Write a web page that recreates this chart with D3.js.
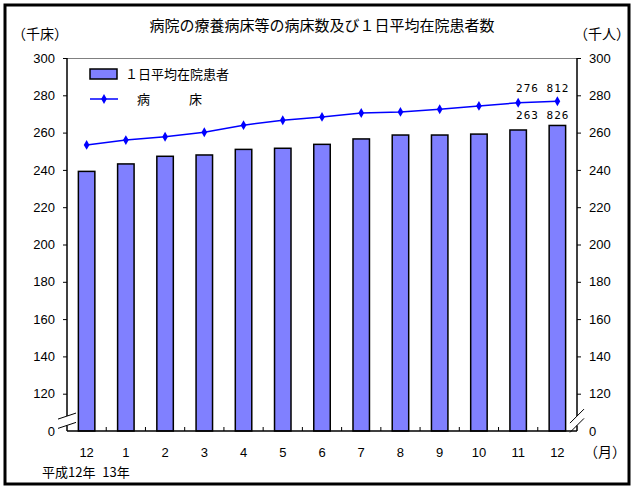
<!DOCTYPE html>
<html><head><meta charset="utf-8">
<script src="https://cdn.jsdelivr.net/npm/d3@7"></script>
<style>body{margin:0;background:#fff}svg{display:block}text{font-family:"Noto Sans CJK JP","Noto Sans",sans-serif;}</style>
</head><body><svg id="c" width="638" height="491"></svg>
<script>
const categories = ["12","1","2","3","4","5","6","7","8","9","10","11","12"];
const patients = [239.2, 243.2, 247.3, 248.0, 251.0, 251.6, 253.7, 256.6, 258.7, 258.7, 259.2, 261.4, 263.826];
const beds = [253.4, 256.0, 257.8, 260.2, 264.0, 266.6, 268.4, 270.5, 271.1, 272.5, 274.3, 276.0, 276.812];
const yTicks = [100,120,140,160,180,200,220,240,260,280,300];
const lastLabels = {beds:"276 812", patients:"263 826"};
const title = "病院の療養病床等の病床数及び１日平均在院患者数";
const leftUnit = "（千床）", rightUnit = "（千人）", xUnit = "（月）", eraLabel = "平成12年 13年";
const seriesNames = ["１日平均在院患者", "病　　　床"];

const svg = d3.select("#c");
const L = 67, R = 577, T = 58, B = 431;
const x = d3.scaleBand().domain(d3.range(categories.length)).range([L,R]).paddingInner(0.58).paddingOuter(0.29);
const y = d3.scaleLinear().domain([100,300]).range([B,T]);
const fmt = d => d===100 ? "0" : String(d);

// frame
svg.append("rect").attr("x",5).attr("y",5).attr("width",624).attr("height",479).attr("fill","none").attr("stroke","#000").attr("stroke-width",3);

// title & units
svg.append("text").attr("x",322).attr("y",31).attr("text-anchor","middle").attr("font-size",15).text(title);
svg.append("text").attr("x",40).attr("y",39).attr("text-anchor","middle").attr("font-size",14).text(leftUnit);
svg.append("text").attr("x",602).attr("y",39).attr("text-anchor","middle").attr("font-size",14).text(rightUnit);

// top border
svg.append("line").attr("x1",L).attr("x2",R).attr("y1",T+0.5).attr("y2",T+0.5).attr("stroke","#808080").attr("stroke-width",1);

// bars
svg.selectAll("rect.bar").data(patients).join("rect").attr("class","bar")
  .attr("x",(d,i)=>x(i)).attr("width",x.bandwidth())
  .attr("y",d=>y(d)).attr("height",d=>B-y(d))
  .attr("fill","#8080ff").attr("stroke","#000").attr("stroke-width",1.5);

// axes
const ax = svg.append("g").attr("transform",`translate(${L},0)`)
  .call(d3.axisLeft(y).tickValues(yTicks).tickFormat(fmt).tickSize(4).tickPadding(8));
ax.select(".domain").remove();
ax.selectAll("line").attr("stroke","#000");
ax.selectAll("text").attr("font-size",13).attr("fill","#000").style("font-family","'Liberation Sans',Arial,sans-serif");
const ar = svg.append("g").attr("transform",`translate(${R},0)`)
  .call(d3.axisRight(y).tickValues(yTicks).tickFormat(fmt).tickSize(4).tickPadding(8));
ar.select(".domain").remove();
ar.selectAll("line").attr("stroke","#000");
ar.selectAll("text").attr("font-size",13).attr("fill","#000").style("font-family","'Liberation Sans',Arial,sans-serif");
ax.selectAll(".tick").filter(d=>d===100).select("line").remove();
ar.selectAll(".tick").filter(d=>d===100).select("line").remove();

// axis lines with breaks
const brkTop = y(108), brkBot = y(103);
[L,R].forEach(xx=>{
  svg.append("line").attr("x1",xx).attr("x2",xx).attr("y1",T).attr("y2",brkTop).attr("stroke","#000").attr("stroke-width",1.5);
  svg.append("line").attr("x1",xx).attr("x2",xx).attr("y1",brkBot).attr("y2",B).attr("stroke","#000").attr("stroke-width",1.5);
});
[[L,9,3],[R,7,7]].forEach(([xx,dx,dy])=>{
  [brkTop,brkBot].forEach(yy=>{
    svg.append("line").attr("x1",xx-dx).attr("y1",yy+dy).attr("x2",xx+dx).attr("y2",yy-dy).attr("stroke","#000").attr("stroke-width",1);
  });
});

// x axis
svg.append("line").attr("x1",L).attr("x2",R).attr("y1",B).attr("y2",B).attr("stroke","#000").attr("stroke-width",1.5);
const step = x.step();
d3.range(1,categories.length).forEach(i=>{
  const xx = x(i) - x.paddingInner()*step/2;
  svg.append("line").attr("x1",xx).attr("x2",xx).attr("y1",B).attr("y2",B-4).attr("stroke","#000");
});
svg.selectAll("text.xl").data(categories).join("text").attr("class","xl")
  .attr("x",(d,i)=>x(i)+x.bandwidth()/2).attr("y",457).attr("text-anchor","middle")
  .attr("font-size",13).style("font-family","'Liberation Sans',Arial,sans-serif").text(d=>d);
svg.append("text").attr("x",605).attr("y",457).attr("text-anchor","middle").attr("font-size",14).text(xUnit);
svg.append("text").attr("x",42).attr("y",477).attr("font-size",13).attr("word-spacing",4).text(eraLabel);

// line
const cx = i => x(i)+x.bandwidth()/2;
svg.append("path").datum(beds).attr("fill","none").attr("stroke","#0000ff").attr("stroke-width",1.5)
  .attr("d",d3.line().x((d,i)=>cx(i)).y(d=>y(d)));
svg.selectAll("path.pt").data(beds).join("path").attr("class","pt")
  .attr("transform",(d,i)=>`translate(${cx(i)},${y(d)})`)
  .attr("d",d3.symbol(d3.symbolDiamond,28)).attr("fill","#0000ff");

// value labels
const n = categories.length-1;
svg.append("text").attr("x",cx(n)+12).attr("y",y(beds[n])-9).attr("text-anchor","end").attr("font-size",11)
  .attr("letter-spacing",1).style("font-family","'DejaVu Sans Mono',monospace").text(lastLabels.beds);
svg.append("text").attr("x",cx(n)+12).attr("y",y(patients[n])-6).attr("text-anchor","end").attr("font-size",11)
  .attr("letter-spacing",1).style("font-family","'DejaVu Sans Mono',monospace").text(lastLabels.patients);

// legend
svg.append("rect").attr("x",90).attr("y",69).attr("width",27).attr("height",10).attr("fill","#8080ff").attr("stroke","#000").attr("stroke-width",1.5);
svg.append("text").attr("x",125).attr("y",79).attr("font-size",13).text(seriesNames[0]);
svg.append("line").attr("x1",90).attr("x2",118).attr("y1",99).attr("y2",99).attr("stroke","#0000ff").attr("stroke-width",1.5);
svg.append("path").attr("transform","translate(104,99)").attr("d",d3.symbol(d3.symbolDiamond,28)).attr("fill","#0000ff");
svg.append("text").attr("x",137).attr("y",104).attr("font-size",13).style("white-space","pre").text(seriesNames[1]);
</script></body></html>
